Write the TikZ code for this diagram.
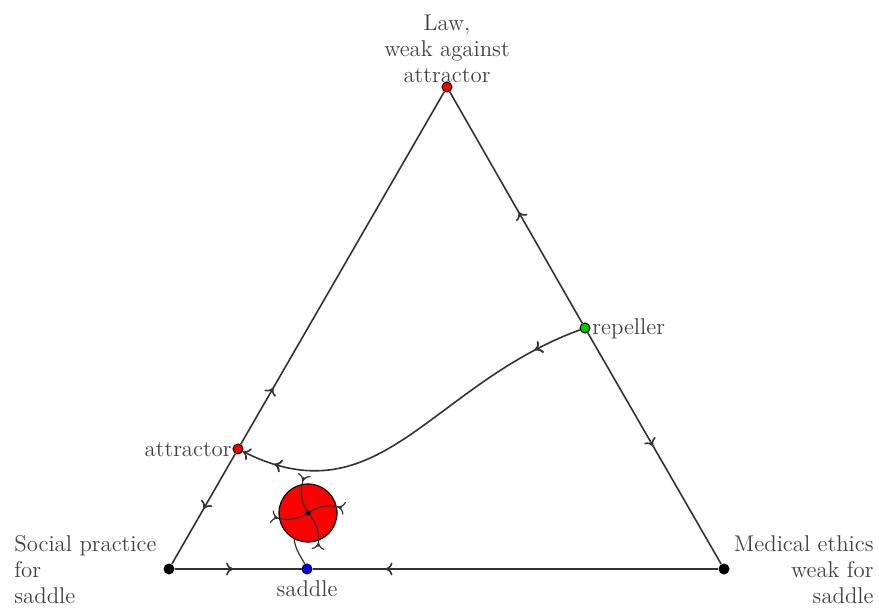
\documentclass[tikz,border=0pt]{standalone}
\usetikzlibrary{decorations.markings,arrows.meta}
\begin{document}
\begin{tikzpicture}[x=0.5pt,y=-0.5pt,
  edge/.style={draw=black!80, line width=0.8pt},
  thin edge/.style={draw=black!80, line width=0.6pt},
  vdot/.style={circle, fill=black, inner sep=0pt, minimum size=5.5pt},
  cdot/.style={circle, draw=black, line width=0.5pt, inner sep=0pt, minimum size=5pt},
  midarrow/.style={postaction={decorate}, decoration={markings, mark=at position #1 with {\arrow{To[length=3.5pt,width=6.5pt]}}}},
  lbl/.style={text=black!75, font=\fontsize{11.4}{13}\selectfont, inner sep=0pt}
]
\useasboundingbox (0,0) rectangle (879,610);
% vertices
\node[vdot] (S) at (169,569) {};
\node[vdot] (M) at (724,569) {};
\node[cdot, fill=red] (L) at (447,87) {};
\node[cdot, fill=red] (att) at (238,449) {};
\node[cdot, fill=green!80!black] (rep) at (585,328) {};
\node[cdot, fill=blue] (sad) at (307,569) {};
% triangle edges
\draw[edge, midarrow=0.5] (att) -- (S);
\draw[edge, midarrow=0.16] (att) -- (L);
\draw[edge, midarrow=0.48] (rep) -- (L);
\draw[edge, midarrow=0.49] (rep) -- (M);
\draw[edge, midarrow=0.46] (S) -- (sad);
\draw[edge, midarrow=0.82] (M) -- (sad);
% repeller -> attractor
\draw[edge, midarrow=0.13, midarrow=0.91, -{To[length=3.5pt,width=6.5pt]}] (rep) .. controls (430,385) and (380,520) .. (att);
% red attractor disc
\node[circle, fill=red, draw=black, line width=0.6pt, minimum size=29pt, inner sep=0pt] (disc) at (308,513) {};
\coordinate (c) at (308,513);
\coordinate (t1) at (304,477);
\coordinate (t2) at (274,517);
\coordinate (t3) at (318,547);
\coordinate (t4) at (342,508);
\draw[thin edge, midarrow=0.12] (t1) to[bend right=25] (c);
\draw[thin edge, midarrow=0.12] (t2) to[bend right=25] (c);
\draw[thin edge, midarrow=0.12] (t3) to[bend right=25] (c);
\draw[thin edge, midarrow=0.12] (t4) to[bend right=25] (c);
\fill[black] (c) circle (1.3pt);
\coordinate (dentry) at (294,538);
\draw[thin edge] (sad) .. controls (302,558) and (295,550) .. (dentry);
% labels
\node[lbl, anchor=east] at (232,450) {attractor};
\node[lbl, anchor=west] at (592,329) {repeller};
\node[lbl, anchor=north] at (307,580) {saddle};
\node[lbl, anchor=south, align=center] at (447,83) {Law,\\weak against\\attractor};
\node[lbl, anchor=north west, align=left] at (14,535) {Social practice\\for\\saddle};
\node[lbl, anchor=north east, align=right] at (874,535) {Medical ethics\\weak for\\saddle};
\end{tikzpicture}
\end{document}
